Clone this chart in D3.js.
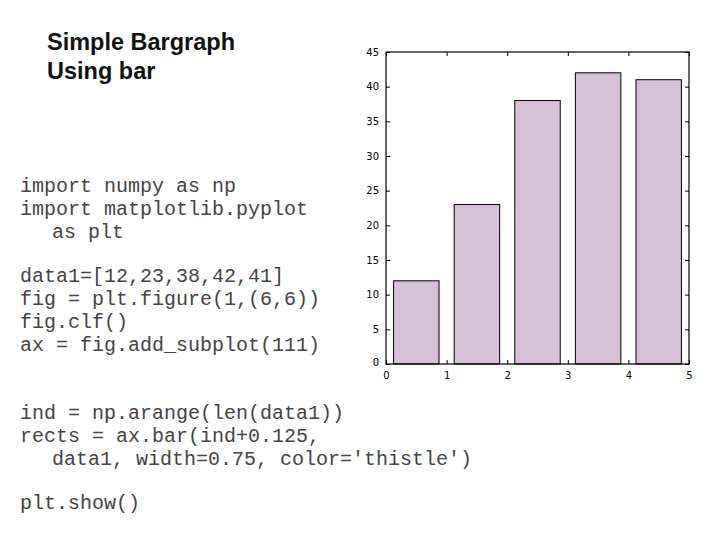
<!DOCTYPE html>
<html>
<head>
<meta charset="utf-8">
<script src="https://cdn.jsdelivr.net/npm/d3@7"></script>
<style>
  body { margin: 0; background: #fff; }
  svg { display: block; }
  .tick text { font-family: "DejaVu Sans", sans-serif; font-size: 10px; fill: #000; }
  .code { font-family: "Liberation Mono", "Courier New", monospace; font-size: 20px; fill: #444; }
  .title { font-family: "Liberation Sans", Arial, sans-serif; font-size: 23.5px; font-weight: bold; fill: #111; }
</style>
</head>
<body>
<div id="chart"></div>
<script>
var data1 = [12, 23, 38, 42, 41];
var ind = [0, 1, 2, 3, 4];
var barOffset = 0.125;
var barWidth = 0.75;
var yTicks = [0, 5, 10, 15, 20, 25, 30, 35, 40, 45];
var xTicks = [0, 1, 2, 3, 4, 5];

var titleLines = ['Simple Bargraph', 'Using bar'];
var codeLines = [
  { t: 'import numpy as np', y: 192 },
  { t: 'import matplotlib.pyplot', y: 215 },
  { t: 'as plt', y: 238, indent: true },
  { t: 'data1=[12,23,38,42,41]', y: 282 },
  { t: 'fig = plt.figure(1,(6,6))', y: 305 },
  { t: 'fig.clf()', y: 328 },
  { t: 'ax = fig.add_subplot(111)', y: 351 },
  { t: 'ind = np.arange(len(data1))', y: 419 },
  { t: 'rects = ax.bar(ind+0.125,', y: 442 },
  { t: 'data1, width=0.75, color=\'thistle\')', y: 465, indent: true },
  { t: 'plt.show()', y: 509 }
];

var width = 728;
var height = 546;

var svg = d3.select('#chart')
  .append('svg')
    .attr('width', width)
    .attr('height', height);

// slide text
svg.selectAll('text.title')
  .data(titleLines).enter()
  .append('text')
    .attr('class', 'title')
    .attr('x', 47)
    .attr('y', function(d, i) { return 50 + i * 29; })
    .text(function(d) { return d; });

svg.selectAll('text.code')
  .data(codeLines).enter()
  .append('text')
    .attr('class', 'code')
    .attr('x', function(d) { return d.indent ? 52 : 20; })
    .attr('y', function(d) { return d.y; })
    .attr('xml:space', 'preserve')
    .text(function(d) { return d.t; });

// plot area
var pLeft = 386, pRight = 689, pTop = 52, pBottom = 364;

var x = d3.scaleLinear()
  .domain([0, 5])
  .range([pLeft, pRight]);

var y = d3.scaleLinear()
  .domain([0, 45])
  .range([pBottom, pTop]);

svg.append('g')
  .selectAll('rect')
  .data(data1).enter()
  .append('rect')
    .attr('x', function(d, i) { return x(ind[i] + barOffset); })
    .attr('y', function(d) { return y(d); })
    .attr('width', function(d, i) { return x(ind[i] + barOffset + barWidth) - x(ind[i] + barOffset); })
    .attr('height', function(d) { return y(0) - y(d); })
    .attr('fill', 'thistle')
    .attr('stroke', '#000')
    .attr('stroke-width', 1);

var yAxis = svg.append('g')
  .attr('transform', 'translate(' + pLeft + ',0)')
  .call(d3.axisLeft(y).tickValues(yTicks).tickSize(-4).tickPadding(7).tickFormat(d3.format('d')));

var xAxis = svg.append('g')
  .attr('transform', 'translate(0,' + pBottom + ')')
  .call(d3.axisBottom(x).tickValues(xTicks).tickSize(-4).tickPadding(8).tickFormat(d3.format('d')));

svg.append('g')
  .attr('transform', 'translate(' + pRight + ',0)')
  .call(d3.axisRight(y).tickValues(yTicks).tickSize(-4).tickFormat(''));

svg.append('g')
  .attr('transform', 'translate(0,' + pTop + ')')
  .call(d3.axisTop(x).tickValues(xTicks).tickSize(-4).tickFormat(''));

svg.selectAll('.domain').remove();
svg.selectAll('.tick line').attr('stroke', '#000');

// matplotlib nudges the corner labels apart
yAxis.selectAll('.tick text').attr('dy', function(d) { return d === 0 ? '0.1em' : '0.32em'; });

svg.append('rect')
  .attr('x', pLeft)
  .attr('y', pTop)
  .attr('width', pRight - pLeft)
  .attr('height', pBottom - pTop)
  .attr('fill', 'none')
  .attr('stroke', '#000')
  .attr('stroke-width', 1.2);
</script>
</body>
</html>
